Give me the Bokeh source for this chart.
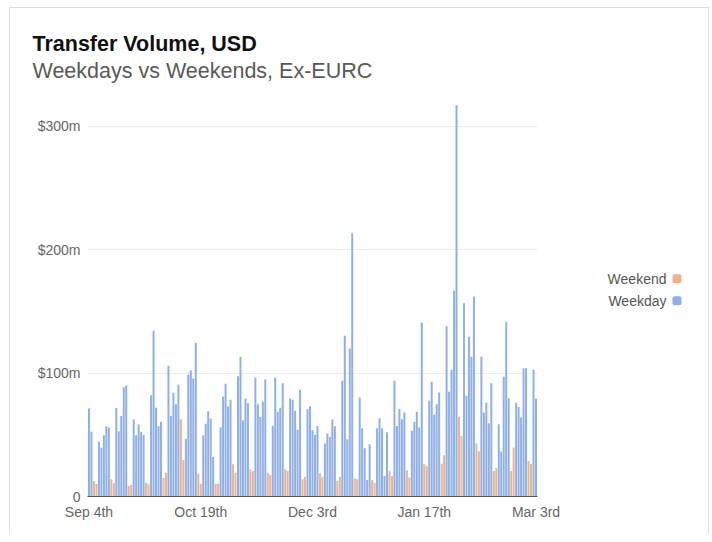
import pandas as pd
from bokeh.plotting import figure
from bokeh.layouts import row
from bokeh.models import ColumnDataSource, FixedTicker, Range1d, Title
from bokeh.core.properties import value
from bokeh.embed import file_html
from bokeh.resources import INLINE

# ---------------- data ----------------
dates = pd.date_range("2025-09-04", "2026-03-03", freq="D")
volume_musd = [
    71.3, 52.4, 12.3, 10.1, 44.5, 39.4, 49.6, 57.0, 55.6, 13.9,
    11.0, 71.6, 52.9, 65.3, 88.6, 90.0, 8.5, 9.6, 62.4, 49.6,
    58.3, 52.4, 49.9, 11.2, 9.9, 82.1, 134.3, 71.8, 57.0, 60.5,
    15.0, 19.2, 105.9, 65.3, 84.0, 74.8, 90.5, 62.6, 29.6, 46.7,
    98.6, 102.0, 95.6, 124.6, 18.5, 10.4, 49.6, 59.0, 69.1, 63.2,
    32.0, 10.4, 10.4, 56.1, 81.0, 91.3, 72.9, 78.3, 26.1, 19.3,
    97.5, 113.2, 61.8, 79.4, 75.6, 21.8, 20.7, 96.5, 74.8, 64.5,
    77.0, 94.8, 19.3, 17.5, 57.3, 96.5, 68.6, 71.8, 91.8, 21.8,
    20.7, 79.4, 78.3, 69.4, 54.0, 86.5, 13.9, 15.8, 70.7, 73.2,
    53.7, 50.0, 57.2, 18.8, 15.8, 42.9, 51.0, 48.3, 62.4, 57.0,
    12.6, 15.8, 93.7, 130.3, 46.4, 120.0, 213.3, 14.5, 13.9, 80.2,
    55.3, 39.1, 13.4, 42.3, 13.1, 11.2, 55.3, 63.4, 55.3, 16.6,
    52.1, 20.7, 16.6, 93.8, 57.2, 70.8, 62.6, 68.0, 21.2, 15.3,
    53.2, 60.5, 68.6, 55.9, 141.0, 26.1, 24.8, 77.5, 93.0, 66.2,
    74.8, 84.3, 26.6, 33.4, 137.9, 84.8, 102.7, 166.8, 317.0, 64.5,
    49.1, 156.5, 81.6, 129.5, 113.2, 162.0, 42.9, 36.4, 113.2, 68.0,
    75.9, 59.4, 91.8, 20.7, 22.9, 58.6, 36.4, 97.0, 141.6, 79.4,
    20.7, 39.6, 75.9, 72.6, 64.0, 104.0, 104.0, 28.8, 26.6, 102.7,
    79.4,
]
x_tick_dates = ["2025-09-04", "2025-10-19", "2025-12-03", "2026-01-17", "2026-03-03"]
x_tick_labels = ["Sep 4th", "Oct 19th", "Dec 3rd", "Jan 17th", "Mar 3rd"]
y_ticks = [0, 100, 200, 300]
y_tick_labels = ["0", "$100m", "$200m", "$300m"]
series_names = ["Weekend", "Weekday"]
title_text = "Transfer Volume, USD"
subtitle_text = "Weekdays vs Weekends, Ex-EURC"

# ---------------- styling ----------------
FONT = "Liberation Sans"
BLUE = "#8FAFE7"
ORANGE = "#EDB38D"

df = pd.DataFrame({"date": dates, "v": volume_musd})
df["x"] = range(len(df))
df["weekend"] = df["date"].dt.dayofweek >= 5
src_wd = ColumnDataSource(df[~df["weekend"]][["x", "v"]])
src_we = ColumnDataSource(df[df["weekend"]][["x", "v"]])

p = figure(
    width=560, height=526, output_backend="svg", toolbar_location=None,
    x_range=Range1d(-0.6, len(df) - 0.4), y_range=Range1d(0, 320),
    min_border_left=77, min_border_right=33, min_border_bottom=38, min_border_top=93,
    title=None,
)
p.add_layout(Title(text=subtitle_text, text_font=FONT,
                   text_font_size="21.5px", text_font_style="normal",
                   text_color="#5a5a5a", align="left", offset=-55, standoff=38), "above")
p.add_layout(Title(text=title_text, text_font=FONT,
                   text_font_size="21.5px", text_font_style="bold",
                   text_color="#111111", align="left", offset=-55, standoff=-37), "above")

p.vbar(x="x", top="v", width=0.8, source=src_we, fill_color=ORANGE, line_color=None)
p.vbar(x="x", top="v", width=0.8, source=src_wd, fill_color=BLUE, line_color=None)

pos = {d.strftime("%Y-%m-%d"): i for i, d in enumerate(dates)}
xt = [pos[d] for d in x_tick_dates]
p.xaxis.ticker = FixedTicker(ticks=xt)
p.xaxis.major_label_overrides = {t: l for t, l in zip(xt, x_tick_labels)}
p.yaxis.ticker = FixedTicker(ticks=y_ticks)
p.yaxis.major_label_overrides = {t: l for t, l in zip(y_ticks, y_tick_labels)}

for ax in (p.xaxis, p.yaxis):
    ax.major_tick_line_color = None
    ax.minor_tick_line_color = None
    ax.major_label_text_font = FONT
    ax.major_label_text_font_size = "14px"
    ax.major_label_text_color = "#666666"
p.yaxis.axis_line_color = None
p.yaxis.major_label_standoff = 1
p.xaxis.axis_line_color = "#555555"
p.xaxis.major_label_standoff = 1
p.xgrid.grid_line_color = None
p.ygrid.ticker = FixedTicker(ticks=y_ticks)
p.ygrid.grid_line_color = "#ececec"
p.outline_line_color = None
p.background_fill_color = "white"
p.border_fill_color = "white"

# ---------------- legend panel (frame is aligned with the main frame) ----------------
FRAME_H = 394.5
lg = figure(width=138, height=526, output_backend="svg", toolbar_location=None,
            x_range=Range1d(0, 138), y_range=Range1d(0, FRAME_H),
            min_border=0, title=None)
lg.axis.visible = False
lg.grid.visible = False
lg.outline_line_color = None
lg.border_fill_color = "white"
leg_y = [217.5, 195.5]
lg.text(x=[96, 96], y=leg_y, text=series_names, text_align="right",
        text_baseline="middle", text_font=value(FONT), text_font_size="14px",
        text_color="#555555")
lg.quad(left=[102, 102], right=[111, 111], bottom=[y - 4.5 for y in leg_y],
        top=[y + 4.5 for y in leg_y], fill_color=[ORANGE, BLUE], line_color=None,
        border_radius=2)

layout = row(p, lg, styles={"border-top": "1px solid #dddddd",
                            "border-left": "1px solid #dddddd",
                            "border-right": "1px solid #dddddd",
                            "margin-top": "7px", "margin-left": "9px"})

open("out.html", "w").write(file_html(layout, INLINE))
